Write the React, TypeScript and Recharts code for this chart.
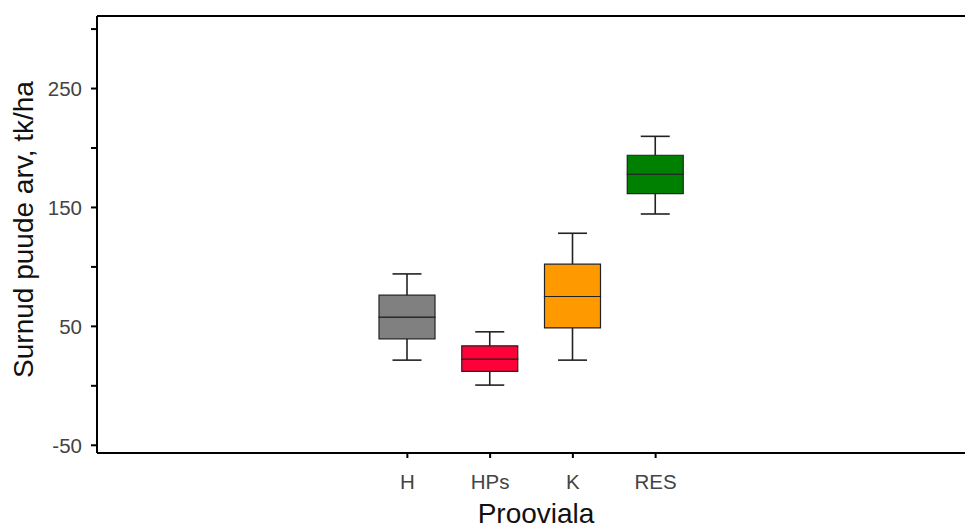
import React from "react";
import { BarChart, Bar, XAxis, YAxis, Cell, Label, ReferenceLine } from "recharts";

const categories = ["H", "HPs", "K", "RES"];
const minValues = [21.6, 0.6, 21.6, 144.5];
const q1Values = [39.5, 12.1, 48.7, 161.7];
const medianValues = [57.7, 22.4, 75.1, 177.9];
const q3Values = [76.2, 33.6, 102.3, 193.9];
const maxValues = [94.1, 45.4, 128.3, 209.8];
const boxColors = ["#808080", "#ff0038", "#ff9900", "#008000"];

const yTicks = [-50, 0, 50, 100, 150, 200, 250, 300];
const yLabeled = [-50, 50, 150, 250];
const Y_MIN = -56.5;
const Y_MAX = 311;

const rows = categories.map((name, i) => ({
  name,
  base: minValues[i],
  lowWhisker: q1Values[i] - minValues[i],
  lowBox: medianValues[i] - q1Values[i],
  highBox: q3Values[i] - medianValues[i],
  highWhisker: maxValues[i] - q3Values[i],
}));

const CAP = 29;
const FONT = "'Liberation Sans', Arial, sans-serif";

const LowWhisker = (props: any) => {
  const { x, y, width, height } = props;
  const cx = x + width / 2;
  return (
    <g stroke="#222" strokeWidth={1.6}>
      <line x1={cx} x2={cx} y1={y} y2={y + height} />
      <line x1={cx - CAP / 2} x2={cx + CAP / 2} y1={y + height} y2={y + height} />
    </g>
  );
};

const HighWhisker = (props: any) => {
  const { x, y, width, height } = props;
  const cx = x + width / 2;
  return (
    <g stroke="#222" strokeWidth={1.6}>
      <line x1={cx} x2={cx} y1={y} y2={y + height} />
      <line x1={cx - CAP / 2} x2={cx + CAP / 2} y1={y} y2={y} />
    </g>
  );
};

const XTick = (props: any) => {
  const { x, y, payload } = props;
  return (
    <text x={x} y={y} dy={15} textAnchor="middle" fill="#444" fontSize={20.5} fontFamily={FONT}>
      {payload.value}
    </text>
  );
};

const YTick = (props: any) => {
  const { x, y, payload } = props;
  if (!yLabeled.includes(payload.value)) return <g />;
  return (
    <text x={x} y={y} dy={7.5} textAnchor="end" fill="#444" fontSize={20.5} fontFamily={FONT}>
      {payload.value}
    </text>
  );
};

const App: React.FC = () => {
  return (
    <div style={{ position: "absolute", left: 0, top: 0 }}>
      <BarChart
        width={965}
        height={529}
        data={rows}
        margin={{ top: 16, right: 0, bottom: 0, left: 0 }}
        barSize={56}
      >
        <XAxis
          dataKey="name"
          interval={0}
          height={76}
          padding={{ left: 269, right: 268 }}
          axisLine={{ stroke: "#000", strokeWidth: 2 }}
          tickLine={{ stroke: "#000", strokeWidth: 2 }}
          tickSize={5}
          tickMargin={16}
          tick={<XTick />}
        >
          <Label
            value="Prooviala"
            position="insideBottom"
            offset={6}
            dx={5}
            style={{ fill: "#111", fontSize: 28, fontFamily: FONT }}
          />
        </XAxis>
        <YAxis
          type="number"
          width={97}
          domain={[Y_MIN, Y_MAX]}
          ticks={yTicks}
          interval={0}
          allowDataOverflow
          axisLine={{ stroke: "#000", strokeWidth: 2 }}
          tickLine={{ stroke: "#000", strokeWidth: 2 }}
          tickSize={6}
          tickMargin={9}
          tick={<YTick />}
        >
          <Label
            value="Surnud puude arv, tk/ha"
            position="insideLeft"
            content={(p: any) => {
              const vb = p.viewBox;
              const cy = vb.y + vb.height / 2 - 5;
              return (
                <text
                  x={23}
                  y={cy}
                  transform={`rotate(-90, 23, ${cy})`}
                  textAnchor="middle"
                  dominantBaseline="central"
                  fill="#111"
                  fontSize={28}
                  fontFamily={FONT}
                >
                  Surnud puude arv, tk/ha
                </text>
              );
            }}
          />
        </YAxis>
        <ReferenceLine y={Y_MAX} stroke="#000" strokeWidth={2} />
        <Bar dataKey="base" stackId="box" fill="transparent" isAnimationActive={false} />
        <Bar dataKey="lowWhisker" stackId="box" shape={LowWhisker} isAnimationActive={false} />
        <Bar dataKey="lowBox" stackId="box" stroke="#222" strokeWidth={1.2} isAnimationActive={false}>
          {rows.map((r, i) => (
            <Cell key={r.name} fill={boxColors[i]} />
          ))}
        </Bar>
        <Bar dataKey="highBox" stackId="box" stroke="#222" strokeWidth={1.2} isAnimationActive={false}>
          {rows.map((r, i) => (
            <Cell key={r.name} fill={boxColors[i]} />
          ))}
        </Bar>
        <Bar dataKey="highWhisker" stackId="box" shape={HighWhisker} isAnimationActive={false} />
      </BarChart>
    </div>
  );
};

export default App;
